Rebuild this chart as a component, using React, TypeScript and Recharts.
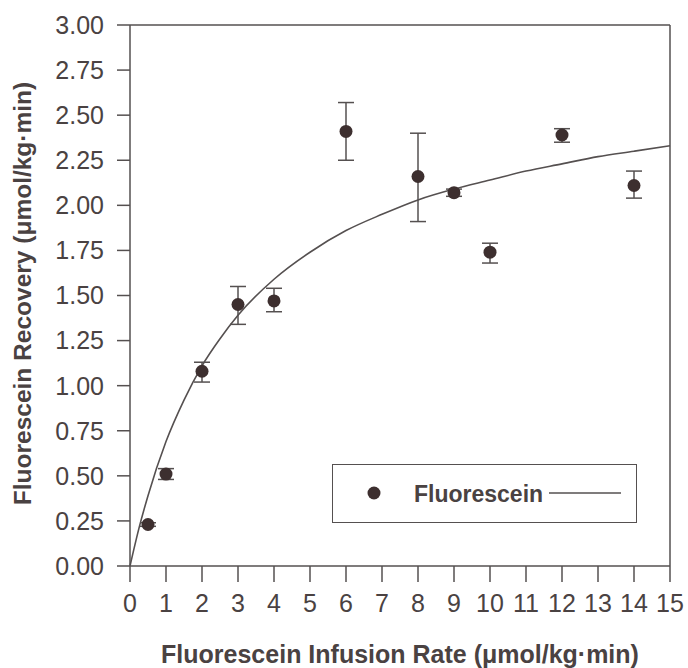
import { ComposedChart, ErrorBar, Legend, Line, ReferenceLine, Scatter, XAxis, YAxis } from "recharts";

// measured points (mean with lower / upper error)
const infusionRate = [0.5, 1, 2, 3, 4, 6, 8, 9, 10, 12, 14];
const recovery = [0.23, 0.51, 1.08, 1.45, 1.47, 2.41, 2.16, 2.07, 1.74, 2.39, 2.11];
const errLow = [0.01, 0.03, 0.06, 0.11, 0.06, 0.16, 0.25, 0.02, 0.06, 0.04, 0.07];
const errHigh = [0.01, 0.03, 0.05, 0.1, 0.07, 0.16, 0.24, 0.02, 0.05, 0.035, 0.08];

// fitted curve
const fitRate = [0, 0.25, 0.5, 1, 1.5, 2, 2.5, 3, 4, 5, 6, 7, 8, 9, 10, 11, 12, 13, 14, 15];
const fitRecovery = [0, 0.21, 0.39, 0.69, 0.92, 1.11, 1.26, 1.39, 1.59, 1.74, 1.86, 1.95, 2.03, 2.09, 2.14, 2.19, 2.23, 2.27, 2.3, 2.33];

const xTicks = [0, 1, 2, 3, 4, 5, 6, 7, 8, 9, 10, 11, 12, 13, 14, 15];
const yTicks = [0, 0.25, 0.5, 0.75, 1, 1.25, 1.5, 1.75, 2, 2.25, 2.5, 2.75, 3];

const points = infusionRate.map((x, i) => ({ x, y: recovery[i], err: [errLow[i], errHigh[i]] }));
const fit = fitRate.map((x, i) => ({ x, y: fitRecovery[i] }));

const ink = "#4a4242";
const axis = "#555050";
const marker = "#3d2f2f";
const font = "'Liberation Sans', Arial, sans-serif";

function LegendBox() {
  return (
    <div
      style={{
        width: 305,
        height: 59,
        boxSizing: "border-box",
        border: `1.5px solid ${axis}`,
        background: "#fff",
        position: "relative",
        fontFamily: font,
      }}
    >
      <svg width={302} height={56} style={{ position: "absolute", left: 0, top: 0 }}>
        <circle cx={41} cy={28} r={6.5} fill={marker} />
        <text x={81} y={37} fontSize={23} fontWeight="bold" fill={ink}>
          Fluorescein
        </text>
        <line x1={216} y1={28} x2={288} y2={28} stroke={axis} strokeWidth={1.5} />
      </svg>
    </div>
  );
}

export default function App() {
  return (
    <div style={{ position: "absolute", left: 0, top: 0, width: 688, height: 668, background: "#fff" }}>
      <ComposedChart width={688} height={668} margin={{ top: 25, right: 18, bottom: 0, left: 0 }}>
        <XAxis
          type="number"
          dataKey="x"
          domain={[0, 15]}
          ticks={xTicks}
          interval={0}
          height={102}
          tickSize={16}
          tickMargin={12}
          stroke={axis}
          strokeWidth={1.5}
          tick={{ fill: ink, fontSize: 25, fontFamily: font }}
          label={{
            value: "Fluorescein Infusion Rate (μmol/kg·min)",
            position: "insideBottom",
            offset: 5,
            fill: ink,
            fontSize: 25,
            fontWeight: "bold",
            fontFamily: font,
          }}
        />
        <YAxis
          type="number"
          domain={[0, 3]}
          ticks={yTicks}
          interval={0}
          width={130}
          tickSize={13}
          tickMargin={13}
          stroke={axis}
          strokeWidth={1.5}
          tickFormatter={(v: number) => v.toFixed(2)}
          tick={{ fill: ink, fontSize: 25, fontFamily: font }}
          label={{
            value: "Fluorescein Recovery (μmol/kg·min)",
            angle: -90,
            position: "insideLeft",
            offset: 22,
            dy: -2,
            fill: ink,
            fontSize: 24.5,
            fontWeight: "bold",
            fontFamily: font,
            style: { textAnchor: "middle" },
          }}
        />
        <ReferenceLine y={3} stroke={axis} strokeWidth={1.5} />
        <ReferenceLine x={15} stroke={axis} strokeWidth={1.5} />
        <Line
          data={fit}
          dataKey="y"
          type="monotone"
          stroke={axis}
          strokeWidth={1.6}
          dot={false}
          activeDot={false}
          isAnimationActive={false}
          legendType="none"
        />
        <Scatter data={points} dataKey="y" fill={marker} shape={(p: any) => <circle cx={p.cx} cy={p.cy} r={6.5} fill={marker} />} isAnimationActive={false}>
          <ErrorBar dataKey="err" direction="y" width={8} stroke={axis} strokeWidth={1.5} />
        </Scatter>
        <Legend
          layout="horizontal"
          verticalAlign="middle"
          align="center"
          wrapperStyle={{ left: 332, top: 464, width: 305, height: 59 }}
          content={() => <LegendBox />}
        />
      </ComposedChart>
    </div>
  );
}
